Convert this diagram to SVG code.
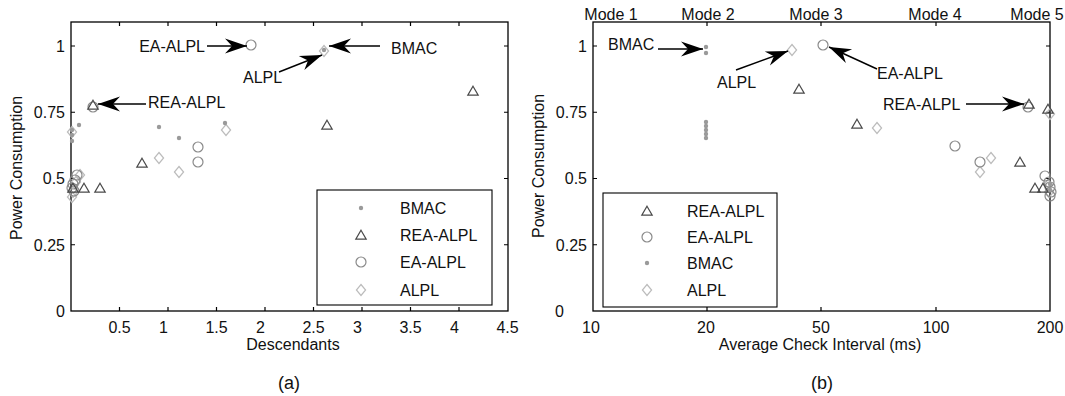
<svg xmlns="http://www.w3.org/2000/svg" xmlns:xlink="http://www.w3.org/1999/xlink" width="1065" height="396" viewBox="0 0 1065 396">
  <style>
    text { font-family: "Liberation Sans", Arial, Helvetica, sans-serif; font-size: 16px; fill: #111; }
    .mid { text-anchor: middle; }
    .end { text-anchor: end; }
    .cap { font-size: 18px; }
    .frame { fill: none; stroke: #000; stroke-width: 1.3; }
    .tick { stroke: #000; stroke-width: 1.2; fill: none; }
    .legend { fill: #fff; stroke: #000; stroke-width: 1.1; }
    .arrow { stroke: #000; stroke-width: 1.4; fill: none; marker-end: url(#head); }
  </style>
  <defs>
    <marker id="head" markerUnits="userSpaceOnUse" markerWidth="26" markerHeight="18" viewBox="-24 -9 26 18" refX="0" refY="0" orient="auto">
      <path d="M0,0 L-22,-7.5 L-15,0 L-22,7.5 Z" fill="#000"/>
    </marker>
    <path id="tri" d="M0,-4.8 L5.2,4.2 L-5.2,4.2 Z" fill="none" stroke="#4a4a4a" stroke-width="1.2"/>
    <circle id="circ" r="5" fill="none" stroke="#8a8a8a" stroke-width="1.2"/>
    <path id="dia" d="M0,-5.5 L4.6,0 L0,5.5 L-4.6,0 Z" fill="none" stroke="#bcbcbc" stroke-width="1.2"/>
    <circle id="dot" r="2.2" fill="#9a9a9a"/>
  </defs>

  <!-- ===== Panel (a): power vs descendants ===== -->
  <g id="panel-a">
    <g id="axes-a">
      <rect class="frame" x="71" y="22" width="437" height="289"/>
      <path class="tick" d="M119.5,311v-4M168,311v-4M216.5,311v-4M265,311v-4M313.5,311v-4M362,311v-4M410.5,311v-4M459,311v-4
                            M119.5,22v4M168,22v4M216.5,22v4M265,22v4M313.5,22v4M362,22v4M410.5,22v4M459,22v4
                            M71,244.75h4M71,178.5h4M71,112.25h4M71,46h4
                            M508,244.75h-4M508,178.5h-4M508,112.25h-4M508,46h-4"/>
      <text class="end" x="65" y="52">1</text>
      <text class="end" x="65" y="118">0.75</text>
      <text class="end" x="65" y="184">0.5</text>
      <text class="end" x="65" y="250.5">0.25</text>
      <text class="end" x="65" y="317">0</text>
      <text class="mid" x="119.5" y="333">0.5</text>
      <text class="mid" x="163.5" y="333">1</text>
      <text class="mid" x="216.5" y="333">1.5</text>
      <text class="mid" x="260.5" y="333">2</text>
      <text class="mid" x="313.5" y="333">2.5</text>
      <text class="mid" x="357.5" y="333">3</text>
      <text class="mid" x="410.5" y="333">3.5</text>
      <text class="mid" x="454.5" y="333">4</text>
      <text class="mid" x="507.5" y="333">4.5</text>
      <text class="mid" x="293" y="350">Descendants</text>
      <text class="mid" transform="translate(22,168) rotate(-90)">Power Consumption</text>
      <text class="mid cap" x="289" y="389">(a)</text>
    </g>
    <g id="series-a">
      <!-- ALPL -->
      <use href="#dia" x="159" y="158"/><use href="#dia" x="179" y="172"/><use href="#dia" x="226" y="130"/>
      <use href="#dia" x="80" y="175"/><use href="#dia" x="76" y="182"/><use href="#dia" x="73" y="192"/>
      <use href="#dia" x="72" y="197"/><use href="#dia" x="324" y="51"/><use href="#dia" x="72" y="132"/>
      <!-- EA-ALPL -->
      <use href="#circ" x="93" y="107"/><use href="#circ" x="251" y="45"/><use href="#circ" x="198" y="147"/>
      <use href="#circ" x="198" y="162"/><use href="#circ" x="77" y="175"/><use href="#circ" x="75" y="180"/>
      <use href="#circ" x="73" y="184"/><use href="#circ" x="72" y="188"/><use href="#circ" x="74" y="191"/>
      <!-- REA-ALPL -->
      <use href="#tri" x="93" y="105"/><use href="#tri" x="142" y="163"/><use href="#tri" x="84" y="188"/>
      <use href="#tri" x="100" y="188"/><use href="#tri" x="327" y="125"/><use href="#tri" x="473" y="91"/>
      <use href="#tri" x="73" y="188"/>
      <!-- BMAC -->
      <use href="#dot" x="72" y="130"/><use href="#dot" x="72" y="135"/><use href="#dot" x="72" y="141"/>
      <use href="#dot" x="79" y="125"/><use href="#dot" x="159" y="127"/><use href="#dot" x="179" y="138"/>
      <use href="#dot" x="225" y="123"/><use href="#dot" x="324" y="50"/>
    </g>
    <g id="legend-a">
      <rect class="legend" x="317" y="190" width="175" height="115"/>
      <use href="#dot" x="361" y="208"/><text x="400" y="214">BMAC</text>
      <use href="#tri" x="361" y="235"/><text x="400" y="241">REA-ALPL</text>
      <use href="#circ" x="361" y="262"/><text x="400" y="268">EA-ALPL</text>
      <use href="#dia" x="361" y="290"/><text x="400" y="296">ALPL</text>
    </g>
    <g id="labels-a">
      <text class="end" x="205" y="52">EA-ALPL</text>
      <text x="148" y="108">REA-ALPL</text>
      <text x="391" y="54">BMAC</text>
      <text x="243" y="83">ALPL</text>
    </g>
  </g>

  <!-- ===== Panel (b): power vs average check interval ===== -->
  <g id="panel-b">
    <g id="axes-b">
      <rect class="frame" x="593" y="22" width="457" height="289"/>
      <path class="tick" d="M707,311v-4M821,311v-4M936,311v-4M707,22v4M821,22v4M936,22v4
                            M593,244.75h4M593,178.5h4M593,112.25h4M593,46h4
                            M1050,244.75h-4M1050,178.5h-4M1050,112.25h-4M1050,46h-4"/>
      <text class="end" x="587" y="52">1</text>
      <text class="end" x="587" y="118">0.75</text>
      <text class="end" x="587" y="184">0.5</text>
      <text class="end" x="587" y="250.5">0.25</text>
      <text x="555" y="317">0</text>
      <text class="mid" x="591" y="333">10</text>
      <text class="mid" x="706" y="333">20</text>
      <text class="mid" x="821" y="333">50</text>
      <text class="mid" x="936" y="333">100</text>
      <text class="mid" x="1050" y="333">200</text>
      <text class="mid" x="820" y="350">Average Check Interval (ms)</text>
      <text class="mid" transform="translate(544,166) rotate(-90)">Power Consumption</text>
      <text class="mid cap" x="822" y="389">(b)</text>
      <text class="mid" x="611" y="20">Mode 1</text>
      <text class="mid" x="708" y="20">Mode 2</text>
      <text class="mid" x="816" y="20">Mode 3</text>
      <text class="mid" x="935" y="20">Mode 4</text>
      <text class="mid" x="1037" y="20">Mode 5</text>
    </g>
    <g id="series-b">
      <!-- ALPL -->
      <use href="#dia" x="792" y="50"/><use href="#dia" x="877" y="128"/><use href="#dia" x="991" y="158"/>
      <use href="#dia" x="980" y="172"/><use href="#dia" x="1050" y="114"/><use href="#dia" x="1048" y="185"/>
      <use href="#dia" x="1049" y="192"/>
      <!-- EA-ALPL -->
      <use href="#circ" x="823" y="45"/><use href="#circ" x="955" y="146"/><use href="#circ" x="980" y="162"/>
      <use href="#circ" x="1028" y="107"/><use href="#circ" x="1045" y="176"/><use href="#circ" x="1049" y="182"/>
      <use href="#circ" x="1050" y="187"/><use href="#circ" x="1051" y="192"/><use href="#circ" x="1050" y="196"/>
      <!-- REA-ALPL -->
      <use href="#tri" x="799" y="89"/><use href="#tri" x="857" y="124"/><use href="#tri" x="1020" y="162"/>
      <use href="#tri" x="1029" y="104"/><use href="#tri" x="1048" y="109"/><use href="#tri" x="1035" y="188"/>
      <use href="#tri" x="1043" y="188"/>
      <!-- BMAC -->
      <use href="#dot" x="706" y="47"/><use href="#dot" x="706" y="53"/><use href="#dot" x="706" y="122"/>
      <use href="#dot" x="706" y="126"/><use href="#dot" x="706" y="130"/><use href="#dot" x="706" y="134"/>
      <use href="#dot" x="706" y="138"/><use href="#dot" x="1050" y="184"/><use href="#dot" x="1050" y="190"/>
    </g>
    <g id="legend-b">
      <rect class="legend" x="603" y="193" width="174" height="114"/>
      <use href="#tri" x="647" y="211"/><text x="687" y="217">REA-ALPL</text>
      <use href="#circ" x="647" y="237"/><text x="687" y="243">EA-ALPL</text>
      <use href="#dot" x="647" y="263"/><text x="687" y="269">BMAC</text>
      <use href="#dia" x="647" y="290"/><text x="687" y="296">ALPL</text>
    </g>
    <g id="labels-b">
      <text x="608" y="50">BMAC</text>
      <text x="717" y="88">ALPL</text>
      <text x="877" y="79">EA-ALPL</text>
      <text x="883" y="110">REA-ALPL</text>
    </g>
  </g>

  <!-- annotation arrows -->
  <g id="connectors">
    <line class="arrow" x1="207" y1="46" x2="247" y2="46"/>
    <line class="arrow" x1="146" y1="104" x2="98" y2="104"/>
    <line class="arrow" x1="380" y1="46" x2="329" y2="46"/>
    <line class="arrow" x1="279" y1="72" x2="322" y2="55"/>
    <line class="arrow" x1="658" y1="49" x2="703" y2="49"/>
    <line class="arrow" x1="736" y1="70" x2="788" y2="51"/>
    <line class="arrow" x1="877" y1="69" x2="829" y2="47"/>
    <line class="arrow" x1="966" y1="104" x2="1024" y2="104"/>
  </g>
</svg>
